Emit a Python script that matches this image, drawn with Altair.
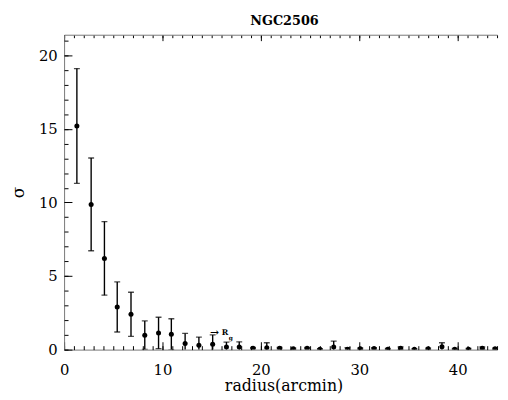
import altair as alt
import pandas as pd

# ---- data ----
radius = [1.3, 2.75, 4.1, 5.4, 6.8, 8.2, 9.6, 10.9, 12.3, 13.7, 15.1, 16.5,
          17.8, 19.2, 20.6, 21.9, 23.3, 24.7, 26.0, 27.4, 28.8, 30.1, 31.5,
          32.9, 34.2, 35.6, 37.0, 38.4, 39.7, 41.1, 42.5, 43.8]
sigma = [15.2, 9.87, 6.2, 2.9, 2.4, 0.98, 1.13, 1.04, 0.42, 0.29, 0.36, 0.17,
         0.17, 0.10, 0.12, 0.10, 0.05, 0.10, 0.02, 0.18, 0.03, 0.06, 0.08,
         0.03, 0.10, 0.02, 0.05, 0.20, 0.03, 0.03, 0.10, 0.05]
sigma_err = [3.9, 3.15, 2.5, 1.7, 1.5, 0.97, 1.07, 1.06, 0.68, 0.56, 0.64, 0.34,
             0.36, 0.05, 0.35, 0.05, 0.05, 0.05, 0.05, 0.40, 0.10, 0.05, 0.05,
             0.05, 0.08, 0.05, 0.05, 0.27, 0.05, 0.05, 0.08, 0.05]

x_major = [0, 10, 20, 30, 40]
x_minor = list(range(0, 45))
y_major = [0, 5, 10, 15, 20]
y_minor = list(range(0, 22))

ann_text = ["\u2192", "R", "g"]
ann_r = [15.3, 16.35, 16.95]
ann_s = [1.1, 1.1, 0.8]
ann_size = [11, 8, 6]

title_text = "NGC2506"
x_title = "radius(arcmin)"
y_title = "\u03c3"

df = pd.DataFrame({"r": radius, "s": sigma, "e": sigma_err})
df["lo"] = df["s"] - df["e"]
df["hi"] = df["s"] + df["e"]
ann = pd.DataFrame({"t": ann_text, "r": ann_r, "s": ann_s, "fs": ann_size})

FONT = "DejaVu Serif"
xs = alt.Scale(domain=[0, 44.0], nice=False, zero=False)
ys = alt.Scale(domain=[0, 21.4], nice=False, zero=False)

base = alt.Chart(df)

main_x_axis = alt.Axis(orient="bottom", values=x_major, ticks=False, grid=False,
                       labelPadding=13, labelFont=FONT, labelFontSize=15,
                       labelColor="black", labelFlush=False,
                       domain=True, domainColor="#777777", domainWidth=1,
                       titleFont=FONT, titleFontSize=16, titleFontWeight="normal",
                       titleColor="black", titleX=223, titleY=42,
                       titleBaseline="alphabetic", titleAlign="center")
main_y_axis = alt.Axis(orient="left", values=y_major, ticks=False, grid=False,
                       labelPadding=7, labelFont=FONT, labelFontSize=15,
                       labelColor="black", labelFlush=False,
                       domain=True, domainColor="#777777", domainWidth=1,
                       titleFont=FONT, titleFontSize=17, titleFontWeight="normal",
                       titleColor="black", titleX=-41, titleY=160, titleAngle=270,
                       titleBaseline="alphabetic", titleAlign="center")

points = base.mark_circle(color="black", size=26, opacity=1, clip=True).encode(
    x=alt.X("r:Q", scale=xs, axis=main_x_axis, title=x_title),
    y=alt.Y("s:Q", scale=ys, axis=main_y_axis, title=y_title),
)

bars = base.mark_rule(color="black", strokeWidth=1.4, clip=True).encode(
    x=alt.X("r:Q", scale=xs, axis=None),
    y=alt.Y("lo:Q", scale=ys, axis=None),
    y2="hi:Q",
)
cap_hi = base.mark_tick(color="black", orient="horizontal", size=6,
                        thickness=1.4, clip=True).encode(
    x=alt.X("r:Q", scale=xs, axis=None),
    y=alt.Y("hi:Q", scale=ys, axis=None),
)
cap_lo = base.mark_tick(color="black", orient="horizontal", size=6,
                        thickness=1.4, clip=True).encode(
    x=alt.X("r:Q", scale=xs, axis=None),
    y=alt.Y("lo:Q", scale=ys, axis=None),
)


def tick_axis(orient, values, size, offset, domain=False):
    return alt.Axis(orient=orient, values=values, tickSize=size, offset=offset,
                    ticks=size > 0, labels=False, grid=False, domain=domain,
                    domainColor="#777777", domainWidth=1,
                    tickColor="black", tickWidth=1)


def x_layer(ax):
    return base.mark_point(opacity=0).encode(
        x=alt.X("r:Q", scale=xs, axis=ax, title=None),
        y=alt.Y("s:Q", scale=ys, axis=None),
    )


def y_layer(ax):
    return base.mark_point(opacity=0).encode(
        x=alt.X("r:Q", scale=xs, axis=None),
        y=alt.Y("s:Q", scale=ys, axis=ax, title=None),
    )


axes_layers = [
    x_layer(tick_axis("bottom", x_major, 8, -8)),
    x_layer(tick_axis("bottom", x_minor, 4, -4)),
    x_layer(tick_axis("top", x_major, 6, -6)),
    x_layer(tick_axis("top", x_minor, 3, -3)),
    x_layer(alt.Axis(orient="top", ticks=False, labels=False, grid=False,
                     domain=True, domainColor="#777777", domainWidth=1)),
    y_layer(tick_axis("left", y_major, 8, -8)),
    y_layer(tick_axis("left", y_minor, 4, -4)),
]

labels = alt.Chart(ann).mark_text(color="black", font=FONT, fontWeight="bold",
                                  align="center", baseline="middle").encode(
    x=alt.X("r:Q", scale=xs, axis=None),
    y=alt.Y("s:Q", scale=ys, axis=None),
    text="t:N",
    size=alt.Size("fs:Q", scale=None, legend=None),
)

chart = alt.layer(points, bars, cap_hi, cap_lo, *axes_layers, labels).resolve_axis(
    x="independent", y="independent"
).properties(
    width=440,
    height=320,
    autosize=alt.AutoSizeParams(type="none"),
    padding={"left": 57, "top": 24, "right": 3, "bottom": 46},
    title=alt.TitleParams(title_text, font=FONT, fontSize=13, fontWeight="bold",
                          color="black", anchor="middle", baseline="alphabetic",
                          offset=7, dx=4, dy=11),
    background="white",
).configure_view(strokeWidth=0)

chart.save("out.html", embed_options={"renderer": "svg", "actions": False})
